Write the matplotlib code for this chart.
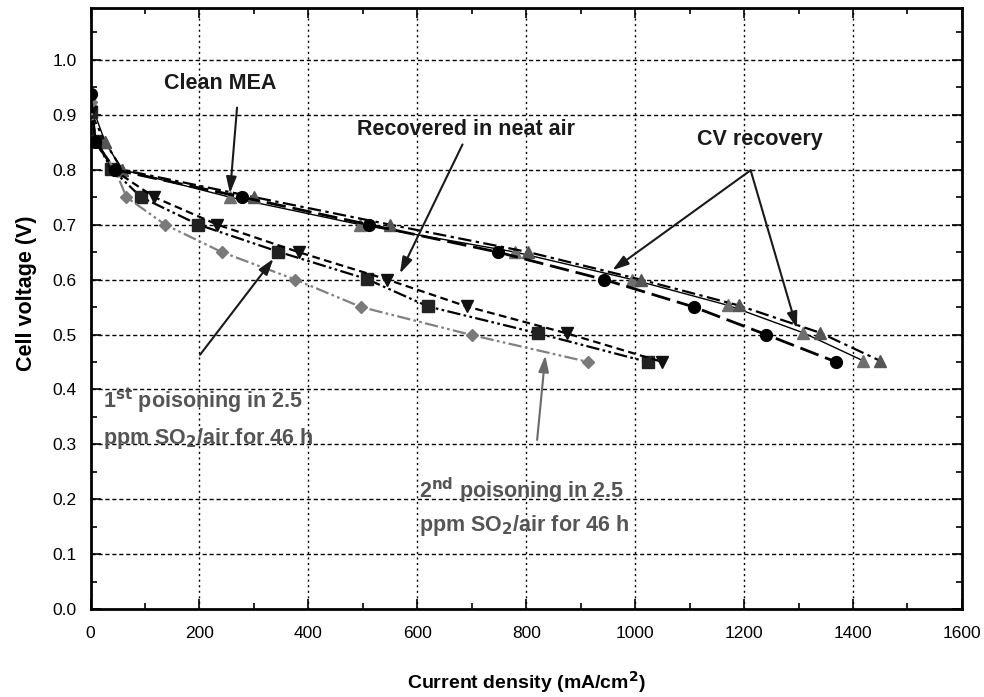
import matplotlib
matplotlib.use("Agg")
import matplotlib.pyplot as plt
from matplotlib.ticker import MultipleLocator

plt.rcParams['font.family'] = ['Liberation Sans', 'DejaVu Sans']

# ---- data ----
clean_x = [0, 9, 45, 279, 511, 748, 943, 1108, 1240, 1369]
clean_y = [0.938, 0.85, 0.80, 0.75, 0.70, 0.65, 0.60, 0.55, 0.50, 0.45]
poison1_x = [0, 9, 38, 93, 198, 344, 507, 620, 822, 1023]
poison1_y = [0.905, 0.853, 0.802, 0.75, 0.70, 0.651, 0.601, 0.551, 0.502, 0.45]
recov_x = [0, 12, 42, 117, 233, 382, 545, 691, 875, 1050]
recov_y = [0.905, 0.85, 0.80, 0.75, 0.70, 0.65, 0.60, 0.551, 0.502, 0.45]
poison2_x = [0, 9, 45, 66, 137, 241, 376, 497, 700, 914]
poison2_y = [0.923, 0.85, 0.80, 0.75, 0.70, 0.65, 0.60, 0.55, 0.499, 0.45]
cv1_x = [0, 27, 58, 256, 495, 780, 995, 1171, 1309, 1419]
cv1_y = [0.923, 0.85, 0.80, 0.75, 0.70, 0.65, 0.60, 0.553, 0.503, 0.452]
cv2_x = [0, 27, 58, 301, 550, 804, 1010, 1190, 1340, 1450]
cv2_y = [0.905, 0.85, 0.80, 0.75, 0.70, 0.65, 0.60, 0.553, 0.503, 0.452]

xticks = [0, 200, 400, 600, 800, 1000, 1200, 1400, 1600]
yticks = [0.0, 0.1, 0.2, 0.3, 0.4, 0.5, 0.6, 0.7, 0.8, 0.9, 1.0]

fig = plt.figure(figsize=(9.84, 6.97), dpi=100)
ax = fig.add_axes([0.092, 0.126, 0.8856, 0.863])

ax.set_xlim(0, 1600)
ax.set_ylim(0, 1.095)

# grid
for yv in yticks[1:]:
    ax.axhline(yv, color='black', lw=1.0, ls=(0, (3, 2)), zorder=1)
for xv in xticks[1:-1]:
    ax.axvline(xv, color='black', lw=1.0, ls=(0, (1.5, 2.5)), zorder=1)

ms = 8.5
ax.plot(cv1_x, cv1_y, color='black', lw=1.0, ls='-', marker='^', ms=ms,
        mfc='#6e6e6e', mec='#6e6e6e', zorder=3)
ax.plot(cv2_x, cv2_y, color='black', lw=1.6, ls=(0, (6, 2, 1.5, 2)), marker='^', ms=ms,
        mfc='#555555', mec='#555555', zorder=3)
ax.plot(clean_x, clean_y, color='black', lw=2.0, ls=(0, (7, 2.5)), marker='o', ms=8.5,
        mfc='black', mec='black', zorder=4)
ax.plot(poison1_x, poison1_y, color='black', lw=1.6, ls=(0, (6, 1.5, 1.2, 1.5, 1.2, 1.5)), marker='s', ms=8.5,
        mfc='#222222', mec='#222222', zorder=3)
ax.plot(recov_x, recov_y, color='black', lw=1.6, ls=(0, (3.5, 2)), marker='v', ms=ms,
        mfc='#111111', mec='#111111', zorder=3)
ax.plot(poison2_x, poison2_y, color='#808080', lw=1.6, ls=(0, (6, 1.5, 1.2, 1.5, 1.2, 1.5)), marker='D', ms=6,
        mfc='#7a7a7a', mec='#7a7a7a', zorder=3)

# ticks
ax.set_xticks(xticks)
ax.set_yticks(yticks)
ax.set_xticklabels([str(v) for v in xticks])
ax.set_yticklabels([f"{v:.1f}" for v in yticks])
ax.xaxis.set_minor_locator(MultipleLocator(100))
ax.yaxis.set_minor_locator(MultipleLocator(0.05))
ax.tick_params(which='both', direction='in', top=True, right=True, width=1.2, colors='black')
ax.tick_params(which='major', length=7, labelsize=12.5)
ax.tick_params(axis='x', which='major', pad=12)
ax.tick_params(axis='y', which='major', pad=10)
ax.tick_params(which='minor', length=4)
for sp in ax.spines.values():
    sp.set_linewidth(2.0)

ax.set_ylabel('Cell voltage (V)', fontsize=15.5, fontweight='bold')
ax.yaxis.set_label_coords(-0.061, 0.525)
ax.set_xlabel('Current density (mA/cm$^\\mathbf{2}$)', fontsize=14, fontweight='bold', labelpad=20)

# annotations
tk = dict(fontsize=15.5, fontweight='bold')
ax.text(238, 0.957, 'Clean MEA', ha='center', va='center', color='#1a1a1a', **tk)
ax.text(690, 0.873, 'Recovered in neat air', ha='center', va='center', color='#1a1a1a', **tk)
ax.text(1229, 0.855, 'CV recovery', ha='center', va='center', color='#1a1a1a', **tk)
ax.text(22, 0.378, '1$^{\\mathbf{st}}$ poisoning in 2.5', ha='left', va='center', color='#555555', **tk)
ax.text(22, 0.31, 'ppm SO$_\\mathbf{2}$/air for 46 h', ha='left', va='center', color='#555555', **tk)
ax.text(604, 0.216, '2$^{\\mathbf{nd}}$ poisoning in 2.5', ha='left', va='center', color='#555555', **tk)
ax.text(604, 0.152, 'ppm SO$_\\mathbf{2}$/air for 46 h', ha='left', va='center', color='#555555', **tk)

ap = dict(arrowstyle='-|>,head_width=0.22,head_length=0.7', lw=1.5, color='#1a1a1a',
          mutation_scale=14, shrinkA=0, shrinkB=0)
ax.annotate('', xy=(256, 0.757), xytext=(269, 0.913), arrowprops=ap, zorder=5)
ax.annotate('', xy=(568, 0.611), xytext=(683, 0.846), arrowprops=ap, zorder=5)
ax.annotate('', xy=(958, 0.617), xytext=(1212, 0.799), arrowprops=ap, zorder=5)
ax.annotate('', xy=(1297, 0.511), xytext=(1212, 0.799), arrowprops=ap, zorder=5)
ax.annotate('', xy=(336, 0.638), xytext=(201, 0.463), arrowprops=ap, zorder=5)
ap2 = dict(ap)
ap2['color'] = '#6a6a6a'
ax.annotate('', xy=(835, 0.462), xytext=(820, 0.308), arrowprops=ap2, zorder=5)

fig.savefig('out.png', dpi=100)
